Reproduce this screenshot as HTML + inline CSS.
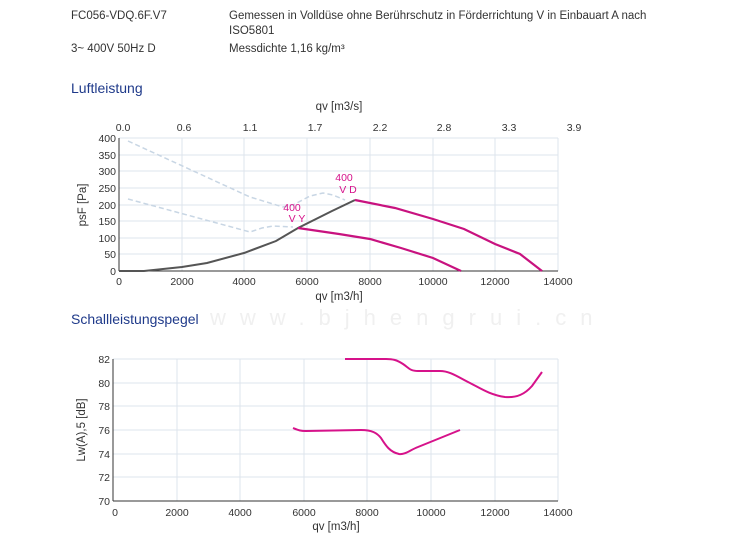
<!DOCTYPE html><html><head><meta charset="utf-8"><style>
body{margin:0;width:750px;height:538px;background:#fff;font-family:"Liberation Sans",sans-serif;overflow:hidden}
svg{position:absolute;left:0;top:0}
</style></head><body>
<svg width="750" height="538" font-family="Liberation Sans, sans-serif">
<g font-size="11.5" fill="#333">
<text x="71" y="19">FC056-VDQ.6F.V7</text>
<text x="229" y="19">Gemessen in Volldüse ohne Berührschutz in Förderrichtung V in Einbauart A nach</text>
<text x="229" y="34">ISO5801</text>
<text x="71" y="52">3~ 400V 50Hz D</text>
<text x="229" y="52">Messdichte 1,16 kg/m³</text>
</g>
<text x="71" y="93" font-size="14" fill="#1f3a8a">Luftleistung</text>
<text x="71" y="324" font-size="14" fill="#1f3a8a">Schallleistungspegel</text>
<text x="210" y="325" font-size="22" fill="#f0f0f0" letter-spacing="14">www.bjhengrui.cn</text>
<g stroke="#dde4ec" stroke-width="1">
<line x1="182" y1="138" x2="182" y2="271"/><line x1="244" y1="138" x2="244" y2="271"/><line x1="307" y1="138" x2="307" y2="271"/><line x1="370" y1="138" x2="370" y2="271"/><line x1="433" y1="138" x2="433" y2="271"/><line x1="495" y1="138" x2="495" y2="271"/><line x1="558" y1="138" x2="558" y2="271"/>
<line x1="119" y1="138" x2="558" y2="138"/><line x1="119" y1="155" x2="558" y2="155"/><line x1="119" y1="171" x2="558" y2="171"/><line x1="119" y1="188" x2="558" y2="188"/><line x1="119" y1="205" x2="558" y2="205"/><line x1="119" y1="221" x2="558" y2="221"/><line x1="119" y1="238" x2="558" y2="238"/><line x1="119" y1="254" x2="558" y2="254"/>
</g>
<g stroke="#333"><line x1="119" y1="138" x2="119" y2="271"/><line x1="119" y1="271" x2="558" y2="271"/></g>
<g font-size="10.5" fill="#333" text-anchor="end">
<text x="116" y="142">400</text><text x="116" y="159">350</text><text x="116" y="175">300</text><text x="116" y="192">250</text><text x="116" y="209">200</text><text x="116" y="225">150</text><text x="116" y="242">100</text><text x="116" y="258">50</text><text x="116" y="275">0</text>
</g>
<g font-size="10.5" fill="#333" text-anchor="middle">
<text x="119" y="285">0</text><text x="182" y="285">2000</text><text x="244" y="285">4000</text><text x="307" y="285">6000</text><text x="370" y="285">8000</text><text x="433" y="285">10000</text><text x="495" y="285">12000</text><text x="558" y="285">14000</text>
<text x="123" y="131">0.0</text><text x="184" y="131">0.6</text><text x="250" y="131">1.1</text><text x="315" y="131">1.7</text><text x="380" y="131">2.2</text><text x="444" y="131">2.8</text><text x="509" y="131">3.3</text><text x="574" y="131">3.9</text>
<text x="339" y="110" font-size="11.5">qv [m3/s]</text>
<text x="339" y="300" font-size="11.5">qv [m3/h]</text>
<text transform="translate(86,205) rotate(-90)" font-size="11.5">psF [Pa]</text>
</g>
<g fill="none" stroke="#c8d6e4" stroke-width="1.5" stroke-dasharray="5,3">
<polyline points="128,141 250,197 283,207 293,205 310,196 323,193 333,195 345,200"/>
<polyline points="128,199 250,232 262,228 273,226 293,227"/>
</g>
<polyline fill="none" stroke="#555" stroke-width="2" points="119,271 144,271 182,267 207,263 244,253 276,241 298,228 332,211 355,200"/>
<g fill="none" stroke="#c8127f" stroke-width="2.2">
<polyline points="355,200 395,208 433,219 464,229 495,244 520,254 542,271"/>
<polyline points="298,228 339,234 370,239 401,248 433,258 461,271"/>
</g>
<g font-size="10.5" fill="#d6128a" text-anchor="middle">
<text x="344" y="181">400</text><text x="348" y="193">V D</text>
<text x="292" y="211">400</text><text x="297" y="222">V Y</text>
</g>
<g stroke="#dde4ec" stroke-width="1">
<line x1="177" y1="359" x2="177" y2="501"/><line x1="240" y1="359" x2="240" y2="501"/><line x1="304" y1="359" x2="304" y2="501"/><line x1="367" y1="359" x2="367" y2="501"/><line x1="431" y1="359" x2="431" y2="501"/><line x1="495" y1="359" x2="495" y2="501"/><line x1="558" y1="359" x2="558" y2="501"/>
<line x1="113" y1="359" x2="558" y2="359"/><line x1="113" y1="383" x2="558" y2="383"/><line x1="113" y1="406" x2="558" y2="406"/><line x1="113" y1="430" x2="558" y2="430"/><line x1="113" y1="454" x2="558" y2="454"/><line x1="113" y1="477" x2="558" y2="477"/>
</g>
<g stroke="#333"><line x1="113" y1="359" x2="113" y2="501"/><line x1="113" y1="501" x2="558" y2="501"/></g>
<g font-size="10.5" fill="#333" text-anchor="end">
<text x="110" y="363">82</text><text x="110" y="387">80</text><text x="110" y="410">78</text><text x="110" y="434">76</text><text x="110" y="458">74</text><text x="110" y="481">72</text><text x="110" y="505">70</text>
</g>
<g font-size="10.5" fill="#333" text-anchor="middle">
<text x="115" y="516">0</text><text x="177" y="516">2000</text><text x="240" y="516">4000</text><text x="304" y="516">6000</text><text x="367" y="516">8000</text><text x="431" y="516">10000</text><text x="495" y="516">12000</text><text x="558" y="516">14000</text>
<text x="336" y="530" font-size="11.5">qv [m3/h]</text>
<text transform="translate(85,430) rotate(-90)" font-size="11.5">Lw(A),5 [dB]</text>
</g>
<g fill="none" stroke="#d6128a" stroke-width="2" stroke-linejoin="round">
<path d="M345,359 L386,359 C393,359 397,360 403,364 C409,368 410,371 418,371 L440,371 C450,371 458,377 470,383 C480,388 490,395 505,397 C517,398 525,394 532,386 L542,372"/>
<path d="M293,428 C298,430 300,431 306,431 L361,430 C372,430 377,433 381,438 C386,446 390,452 399,454 C405,455 410,450 418,447 L460,430"/>
</g>
</svg>
</body></html>
